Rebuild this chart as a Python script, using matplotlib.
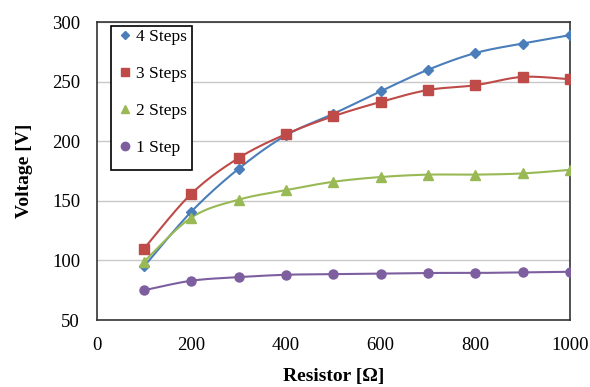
import numpy as np
import matplotlib
matplotlib.use("Agg")
import matplotlib.pyplot as plt
from matplotlib.lines import Line2D
from matplotlib.patches import Rectangle

resistance = [100, 200, 300, 400, 500, 600, 700, 800, 900, 1000]
v4 = [95, 141, 177, 205, 223, 242, 260, 274, 282, 289]
v3 = [110, 156, 186, 206, 221, 233, 243, 247, 254, 252]
v2 = [99, 136, 151, 159, 166, 170, 172, 172, 173, 176]
v1 = [75, 83, 86, 88, 88.5, 89, 89.5, 89.5, 90, 90.5]

labels = ["4 Steps", "3 Steps", "2 Steps", "1 Step"]
colors = ["#4a7ebb", "#be4b48", "#98b954", "#7d5fa0"]
markers = ["D", "s", "^", "o"]
msizes = [5, 6.5, 6.5, 6.5]

plt.rcParams['font.family'] = ['Liberation Serif', 'DejaVu Serif']

def smooth(x, y, n=30):
    x = np.asarray(x, float); y = np.asarray(y, float)
    xs, ys = [], []
    N = len(x)
    for i in range(N - 1):
        p0 = (x[i-1], y[i-1]) if i > 0 else (x[i], y[i])
        p1 = (x[i], y[i]); p2 = (x[i+1], y[i+1])
        p3 = (x[i+2], y[i+2]) if i + 2 < N else (x[i+1], y[i+1])
        c1 = (p1[0] + (p2[0]-p0[0])/6, p1[1] + (p2[1]-p0[1])/6)
        c2 = (p2[0] - (p3[0]-p1[0])/6, p2[1] - (p3[1]-p1[1])/6)
        t = np.linspace(0, 1, n)
        bx = (1-t)**3*p1[0] + 3*(1-t)**2*t*c1[0] + 3*(1-t)*t**2*c2[0] + t**3*p2[0]
        by = (1-t)**3*p1[1] + 3*(1-t)**2*t*c1[1] + 3*(1-t)*t**2*c2[1] + t**3*p2[1]
        xs.extend(bx); ys.extend(by)
    return np.array(xs), np.array(ys)

fig = plt.figure(figsize=(5.9, 3.87), dpi=100)
ax = fig.add_axes([0.164, 0.173, 0.802, 0.770])

series = [v4, v3, v2, v1]
handles = []
for vals, lab, c, m, ms in zip(series, labels, colors, markers, msizes):
    sx, sy = smooth(resistance, vals)
    ax.plot(sx, sy, color=c, lw=1.5, zorder=3)
    ax.plot(resistance, vals, linestyle='none', marker=m, color=c, ms=ms, zorder=4)
    handles.append(Line2D([], [], linestyle='none', marker=m, color=c, ms=ms - 0.5, label=lab))

ax.set_xlim(0, 1000)
ax.set_ylim(50, 300)
ax.set_xticks([0, 200, 400, 600, 800, 1000])
ax.set_yticks([50, 100, 150, 200, 250, 300])
ax.yaxis.grid(True, color='#c8c8c8', lw=1)
ax.set_axisbelow(True)
for s in ax.spines.values():
    s.set_color('#333333')
    s.set_linewidth(1.2)
ax.tick_params(axis='y', length=0, labelsize=13.5, pad=12)
ax.tick_params(axis='x', length=0, labelsize=13.5, pad=12)

ax.set_ylabel("Voltage [V]", fontsize=14, fontweight='bold', labelpad=14)
ax.set_xlabel("Resistor [Ω]", fontsize=14, fontweight='bold', labelpad=10)

ax.add_patch(Rectangle((0.0296, 0.503), 0.1712, 0.4836, transform=ax.transAxes,
                       fill=True, facecolor='white', edgecolor='black', lw=1.2, zorder=5))
leg = ax.legend(handles=handles, loc='upper left', bbox_to_anchor=(0.033, 0.99),
                frameon=False, fontsize=12.5, labelspacing=1.2,
                handletextpad=0.15, handlelength=1.0, borderpad=0.2, borderaxespad=0)
leg.set_zorder(6)

fig.savefig("out.png", dpi=100)
